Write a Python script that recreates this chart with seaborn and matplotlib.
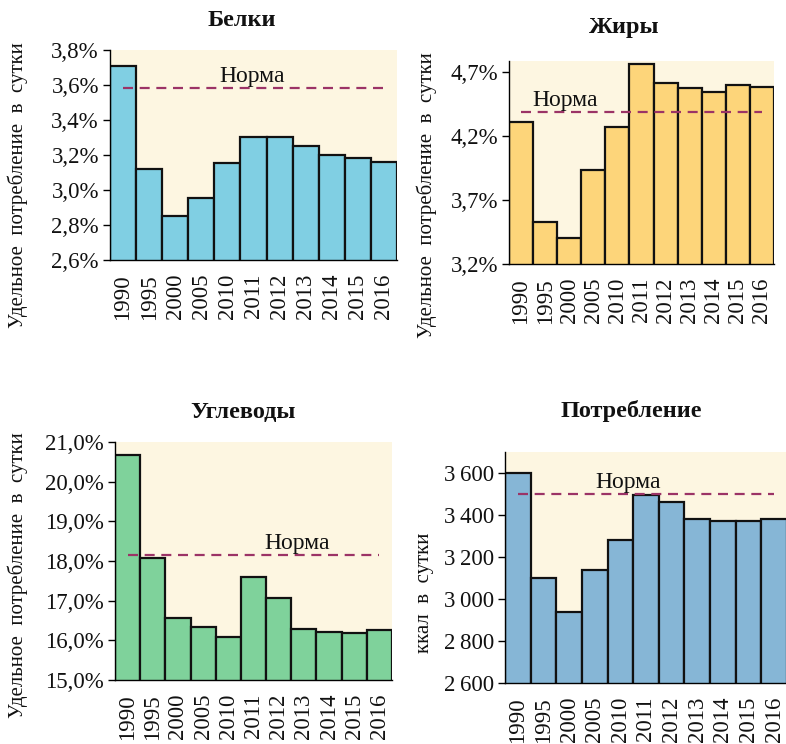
import matplotlib
matplotlib.use("Agg")
import matplotlib.pyplot as plt
import seaborn as sns
import pandas as pd

years = ["1990", "1995", "2000", "2005", "2010", "2011", "2012", "2013", "2014", "2015", "2016"]

protein = [3.71, 3.12, 2.85, 2.955, 3.155, 3.305, 3.305, 3.25, 3.20, 3.18, 3.16]
protein_norm = 3.58

fat = [4.31, 3.53, 3.40, 3.94, 4.27, 4.77, 4.62, 4.58, 4.55, 4.60, 4.59]
fat_norm = 4.39

carbs = [20.68, 18.07, 16.56, 16.34, 16.09, 17.60, 17.07, 16.29, 16.22, 16.18, 16.25]
carbs_norm = 18.14

kcal = [3600, 3100, 2940, 3140, 3280, 3495, 3460, 3380, 3370, 3370, 3380]
kcal_norm = 3500

titles = ["Белки", "Жиры", "Углеводы", "Потребление"]
ylabels = ["Удельное  потребление  в  сутки", "Удельное  потребление  в  сутки",
           "Удельное  потребление  в  сутки", "ккал  в  сутки"]
norm_label = "Норма"

sns.set_theme(style="white")
plt.rcParams["font.family"] = ["Liberation Serif", "DejaVu Serif"]

W, H = 786, 744
fig = plt.figure(figsize=(W / 100, H / 100), dpi=100)
fig.patch.set_facecolor("white")


def rect(l, r, t, b):
    return [l / W, 1 - b / H, (r - l) / W, (b - t) / H]


panels = [
    dict(vals=protein, norm=protein_norm, color="#80cfe3", rect=rect(110, 397, 50, 260),
         ylim=(2.6, 3.8), ticks=[2.6, 2.8, 3.0, 3.2, 3.4, 3.6, 3.8],
         fmt=lambda v: f"{v:.1f}%".replace(".", ","), textx=4.94,
         title_xy=(242, 20), ylab_xy=(18, 185)),
    dict(vals=fat, norm=fat_norm, color="#fdd57a", rect=rect(509, 774, 61, 264),
         ylim=(3.2, 4.79), ticks=[3.2, 3.7, 4.2, 4.7],
         fmt=lambda v: f"{v:.1f}%".replace(".", ","), textx=1.82,
         title_xy=(624, 28), ylab_xy=(427, 195)),
    dict(vals=carbs, norm=carbs_norm, color="#7fd29b", rect=rect(115, 392, 442, 680),
         ylim=(15.0, 21.0), ticks=[15, 16, 17, 18, 19, 20, 21],
         fmt=lambda v: f"{v:.1f}%".replace(".", ","), textx=6.75,
         title_xy=(243, 413), ylab_xy=(18, 575)),
    dict(vals=kcal, norm=kcal_norm, color="#86b6d6", rect=rect(505, 787, 452, 683),
         ylim=(2600, 3700), ticks=[2600, 2800, 3000, 3200, 3400, 3600],
         fmt=lambda v: f"{int(v):,}".replace(",", "\u2009"), textx=4.31,
         title_xy=(631, 411), ylab_xy=(425, 593)),
]

for p, title, ylab in zip(panels, titles, ylabels):
    ax = fig.add_axes(p["rect"])
    df = pd.DataFrame({"year": years, "value": p["vals"]})
    sns.barplot(data=df, x="year", y="value", color=p["color"], saturation=1,
                width=1.0, edgecolor="#111111", linewidth=1.6, ax=ax, zorder=2)
    ax.set_facecolor("#fdf6e1")
    ax.set_xlim(-0.5, len(years) - 0.5)
    ax.set_ylim(*p["ylim"])
    ax.set_yticks(p["ticks"])
    ax.set_yticklabels([p["fmt"](t) for t in p["ticks"]])
    ax.hlines(p["norm"], 0, len(years) - 1, colors="#9b3366", linestyles=(0, (4.5, 3)),
              linewidth=1.6, zorder=3)
    ax.annotate(norm_label, xy=(p["textx"], p["norm"]), xytext=(0, 1),
                textcoords="offset points", ha="center", va="bottom",
                fontsize=17, color="#111111", zorder=4)
    ax.set_xlabel("")
    ax.set_ylabel("")
    for s in ["top", "right"]:
        ax.spines[s].set_visible(False)
    for s in ["left", "bottom"]:
        ax.spines[s].set_color("black")
        ax.spines[s].set_linewidth(1.0)
    ax.tick_params(axis="y", which="major", left=True, length=5, width=1,
                   color="black", labelsize=16.5, labelcolor="#111111", pad=3, direction="out")
    ax.tick_params(axis="x", bottom=False, labelsize=16.5, labelcolor="#111111",
                   labelrotation=90, pad=4)
    fig.text(p["title_xy"][0] / W, 1 - p["title_xy"][1] / H, title, ha="center",
             va="center", fontsize=17.5, fontweight="bold", color="#111111")
    fig.text(p["ylab_xy"][0] / W, 1 - p["ylab_xy"][1] / H, ylab, ha="center",
             va="center", rotation=90, fontsize=15, color="#111111")

fig.savefig("out.png", dpi=100)
